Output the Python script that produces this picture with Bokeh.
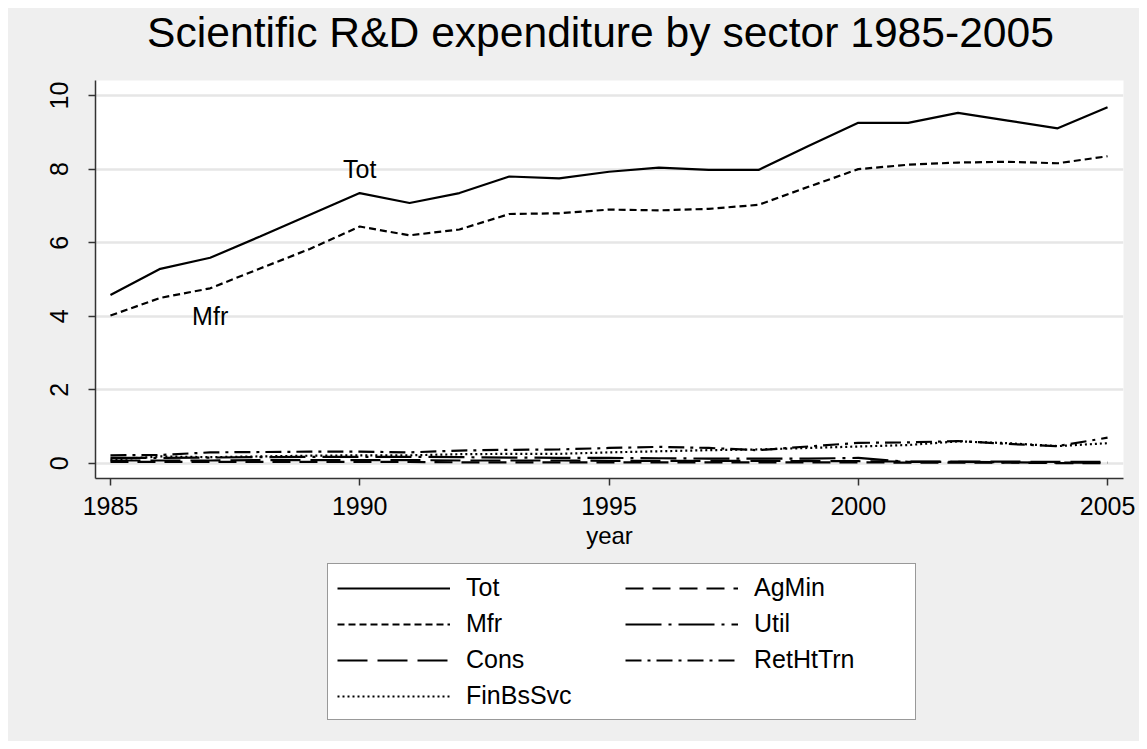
from bokeh.plotting import figure
from bokeh.layouts import column
from bokeh.models import Range1d, FixedTicker, Legend, LegendItem, ColumnDataSource
from bokeh.embed import file_html
from bokeh.resources import INLINE
from bokeh.core.properties import value

# ---- data ----
years = list(range(1985, 2006))
tot = [4.58, 5.29, 5.59, 6.17, 6.76, 7.35, 7.08, 7.35, 7.80, 7.75, 7.93, 8.04, 7.98, 7.98, 8.63, 9.26, 9.26, 9.53, 9.32, 9.11, 9.68]
agmin = [0.04, 0.04, 0.04, 0.04, 0.04, 0.04, 0.04, 0.03, 0.03, 0.03, 0.03, 0.03, 0.03, 0.03, 0.03, 0.03, 0.02, 0.02, 0.02, 0.01, 0.01]
mfr = [4.02, 4.50, 4.76, 5.30, 5.83, 6.44, 6.20, 6.36, 6.78, 6.80, 6.90, 6.88, 6.92, 7.03, 7.52, 8.00, 8.12, 8.18, 8.20, 8.16, 8.35]
util = [0.15, 0.15, 0.16, 0.17, 0.18, 0.18, 0.18, 0.17, 0.16, 0.15, 0.15, 0.14, 0.13, 0.13, 0.13, 0.15, 0.04, 0.04, 0.03, 0.02, 0.02]
cons = [0.08, 0.08, 0.08, 0.09, 0.09, 0.09, 0.09, 0.08, 0.08, 0.08, 0.07, 0.07, 0.07, 0.07, 0.06, 0.06, 0.05, 0.05, 0.05, 0.04, 0.04]
rethttrn = [0.22, 0.23, 0.30, 0.31, 0.32, 0.32, 0.30, 0.35, 0.37, 0.38, 0.42, 0.45, 0.42, 0.36, 0.46, 0.56, 0.57, 0.61, 0.53, 0.47, 0.70]
finbssvc = [0.10, 0.19, 0.17, 0.19, 0.21, 0.22, 0.22, 0.25, 0.26, 0.26, 0.30, 0.33, 0.36, 0.38, 0.42, 0.46, 0.50, 0.60, 0.55, 0.47, 0.55]

series_names = ["Tot", "AgMin", "Mfr", "Util", "Cons", "RetHtTrn", "FinBsSvc"]
series_values = [tot, agmin, mfr, util, cons, rethttrn, finbssvc]
series_dashes = ["solid", "18 9", "7 4", "36 7 3 7", "30 10", "16 6 3 6", "2 3"]

x_ticks = [1985, 1990, 1995, 2000, 2005]
y_ticks = [0, 2, 4, 6, 8, 10]

title_text = "Scientific R&D expenditure by sector 1985-2005"
label_text = ["Tot", "Mfr"]
label_x = [1990, 1987]
label_y = [8.0, 4.0]

FONT = "Liberation Sans"
BG = "#efefef"
W = 1131
HT = 60     # title strip
H1 = 490    # plot
H2 = 183    # legend strip
FL, FR = 87, 1115   # frame left / right (pixels inside the figure), shared by the column


def bare(height):
    f = figure(width=W, height=height, output_backend="svg", toolbar_location=None,
               x_range=Range1d(FL, FR), y_range=Range1d(0, height),
               x_axis_location=None, y_axis_location=None,
               min_border_left=FL, min_border_right=W - FR, min_border_top=0, min_border_bottom=0,
               background_fill_color=BG, border_fill_color=BG)
    f.outline_line_color = None
    f.grid.visible = False
    return f


# ---- title strip ----
t = bare(HT)
t.text(x=[592], y=[HT - 23], text=[title_text], text_font=value(FONT), text_font_size="42.6px",
       text_align="center", text_baseline="middle", text_color="black")

# ---- main plot ----
p = figure(width=W, height=H1, output_backend="svg", toolbar_location=None,
           x_range=Range1d(1984.7, 2005.32), y_range=Range1d(-0.41, 10.41),
           min_border_left=FL, min_border_right=W - FR, min_border_top=72 - HT, min_border_bottom=H1 - (470 - HT),
           background_fill_color="white", border_fill_color=BG)
p.outline_line_color = None

p.xaxis.ticker = FixedTicker(ticks=x_ticks)
p.yaxis.ticker = FixedTicker(ticks=y_ticks)
for ax in (p.xaxis[0], p.yaxis[0]):
    ax.major_label_text_font = FONT
    ax.major_label_text_font_size = "25px"
    ax.major_label_text_color = "black"
    ax.axis_line_color = "#333333"
    ax.axis_line_width = 1.5
    ax.major_tick_line_color = "#333333"
    ax.major_tick_line_width = 1.5
    ax.major_tick_out = 7
    ax.major_tick_in = 0
    ax.minor_tick_line_color = None
p.yaxis.major_label_orientation = "vertical"
p.yaxis.major_label_standoff = 20
p.xaxis.major_label_standoff = 11
p.xaxis.axis_label = "year"
p.xaxis.axis_label_text_font = FONT
p.xaxis.axis_label_text_font_size = "24px"
p.xaxis.axis_label_text_font_style = "normal"
p.xaxis.axis_label_text_color = "black"
p.xaxis.axis_label_standoff = 4

p.xgrid.grid_line_color = None
p.ygrid.grid_line_color = "#e6e6e6"
p.ygrid.grid_line_width = 2.5

sources = []
for name, vals, dash in zip(series_names, series_values, series_dashes):
    src = ColumnDataSource(dict(x=years, y=vals))
    sources.append(src)
    p.line("x", "y", source=src, line_color="black", line_width=2.2, line_dash=dash)

lsrc = ColumnDataSource(dict(x=label_x, y=label_y, t=label_text))
p.text("x", "y", text="t", source=lsrc, text_font=value(FONT), text_font_size="25px",
       text_align="center", text_baseline="middle", text_color="black")

# ---- legend strip ----
q = bare(H2)
items = []
for name, src, dash in zip(series_names, sources, series_dashes):
    # same series; lies outside this strip's view, only used for the legend key
    r = q.line("x", "y", source=src, line_color="black", line_width=2.2, line_dash=dash)
    items.append(LegendItem(label=name, renderers=[r]))

legend = Legend(items=items, orientation="horizontal", ncols=2, location=(319 - FL, 21),
                glyph_width=113, glyph_height=24, label_height=24, label_width=152,
                label_standoff=16, spacing=7, padding=9,
                label_text_font=FONT, label_text_font_size="25px", label_text_color="black",
                border_line_color="#333333", border_line_width=1.5,
                background_fill_color="white", background_fill_alpha=1.0)
q.add_layout(legend, "center")

layout = column(t, p, q, spacing=0)
layout.margin = (8, 8, 8, 8)
layout.styles = {"background-color": BG}

open("out.html", "w").write(file_html(layout, INLINE))
